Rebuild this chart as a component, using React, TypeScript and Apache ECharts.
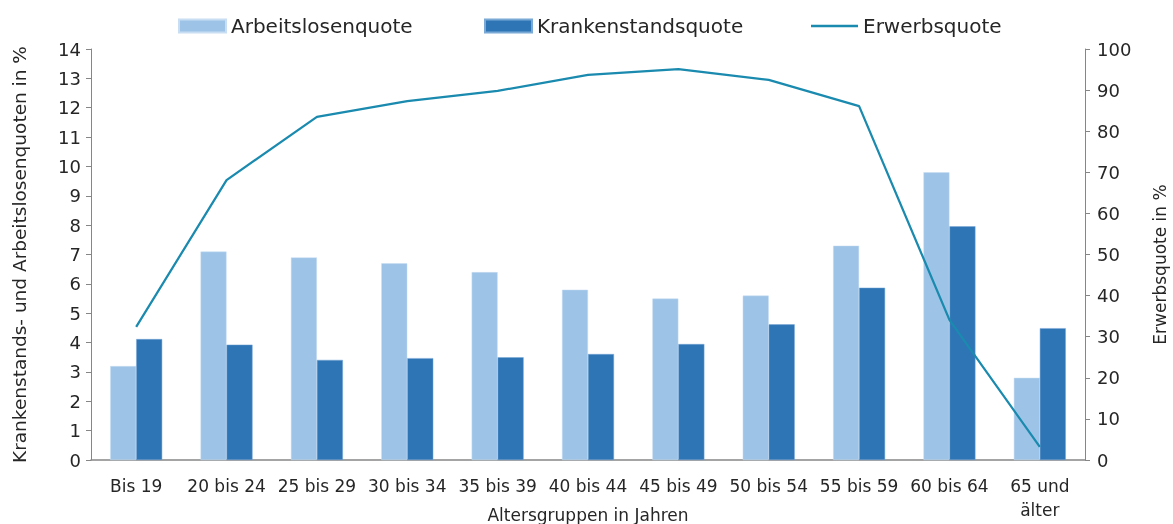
import React, { useEffect, useRef } from "react";
import * as echarts from "echarts";

const categories = [
  "Bis 19",
  "20 bis 24",
  "25 bis 29",
  "30 bis 34",
  "35 bis 39",
  "40 bis 44",
  "45 bis 49",
  "50 bis 54",
  "55 bis 59",
  "60 bis 64",
  "65 und\nälter",
];
const arbeitslosenquote = [3.2, 7.1, 6.9, 6.7, 6.4, 5.8, 5.5, 5.6, 7.3, 9.8, 2.8];
const krankenstandsquote = [4.12, 3.93, 3.41, 3.47, 3.5, 3.61, 3.95, 4.62, 5.87, 7.96, 4.49];
const erwerbsquote = [32.4, 68.1, 83.5, 87.3, 89.8, 93.7, 95.1, 92.5, 86.1, 34.1, 3.2];

const FONT = "DejaVu Sans";
const TEXT = "#262626";
const AXIS = "#868686";

export default function App() {
  const ref = useRef<HTMLDivElement>(null);
  useEffect(() => {
    if (!ref.current) return;
    const chart = echarts.init(ref.current, undefined, { renderer: "svg" });
    const legendText = { fontFamily: FONT, fontSize: 20, color: TEXT };
    chart.setOption({
      animation: false,
      textStyle: { fontFamily: FONT, color: TEXT },
      legend: [
        { data: ["Arbeitslosenquote"], icon: "rect", left: 173, top: 11, itemWidth: 47, itemHeight: 13, textStyle: legendText },
        { data: ["Krankenstandsquote"], icon: "rect", left: 479, top: 11, itemWidth: 47, itemHeight: 13, textStyle: legendText },
        { data: ["Erwerbsquote"], icon: "rect", left: 806, top: 11, itemWidth: 47, itemHeight: 2.5, textStyle: legendText },
      ],
      grid: { left: 91, right: 88, top: 49, bottom: 64, containLabel: false, outerBoundsMode: "none" },
      xAxis: {
        type: "category",
        data: categories,
        axisLine: { lineStyle: { color: AXIS, width: 1.5 } },
        axisTick: { show: false },
        axisLabel: { fontFamily: FONT, fontSize: 17, color: TEXT, margin: 14, lineHeight: 24, interval: 0 },
        name: "Altersgruppen in Jahren",
        nameLocation: "middle",
        nameGap: 46,
        nameMoveOverlap: false,
        nameTextStyle: { fontFamily: FONT, fontSize: 17, color: TEXT },
      },
      yAxis: [
        {
          type: "value",
          min: 0,
          max: 14,
          interval: 1,
          splitLine: { show: false },
          axisLine: { show: true, lineStyle: { color: AXIS } },
          axisTick: { show: true, length: 5, lineStyle: { color: AXIS } },
          axisLabel: { fontFamily: FONT, fontSize: 18, color: TEXT, margin: 10 },
          name: "Krankenstands- und Arbeitslosenquoten in %",
          nameLocation: "middle",
          nameGap: 62,
          nameMoveOverlap: false,
          nameTextStyle: { fontFamily: FONT, fontSize: 18.5, color: TEXT },
        },
        {
          type: "value",
          min: 0,
          max: 100,
          interval: 10,
          position: "right",
          splitLine: { show: false },
          axisLine: { show: true, lineStyle: { color: AXIS } },
          axisTick: { show: true, length: 5, lineStyle: { color: AXIS } },
          axisLabel: { fontFamily: FONT, fontSize: 18, color: TEXT, margin: 12 },
          name: "Erwerbsquote in %",
          nameLocation: "middle",
          nameGap: 66,
          nameMoveOverlap: false,
          nameTextStyle: { fontFamily: FONT, fontSize: 17, color: TEXT, padding: [0, 20, 0, 0] },
        },
      ],
      series: [
        {
          name: "Arbeitslosenquote",
          type: "bar",
          data: arbeitslosenquote,
          barWidth: 26,
          barGap: "0%",
          itemStyle: { color: "#9dc3e6", borderColor: "#c9def2", borderWidth: 0.5 },
        },
        {
          name: "Krankenstandsquote",
          type: "bar",
          data: krankenstandsquote,
          barWidth: 26,
          barGap: "0%",
          itemStyle: { color: "#2e75b6", borderColor: "#7aa9d6", borderWidth: 0.5 },
        },
        {
          name: "Erwerbsquote",
          type: "line",
          yAxisIndex: 1,
          data: erwerbsquote,
          symbol: "none",
          lineStyle: { color: "#1a8aaf", width: 2.25 },
          itemStyle: { color: "#1a8aaf" },
          z: 5,
        },
      ],
    });
    return () => chart.dispose();
  }, []);
  return <div ref={ref} style={{ position: "fixed", left: 0, top: 0, width: 1173, height: 524 }} />;
}
